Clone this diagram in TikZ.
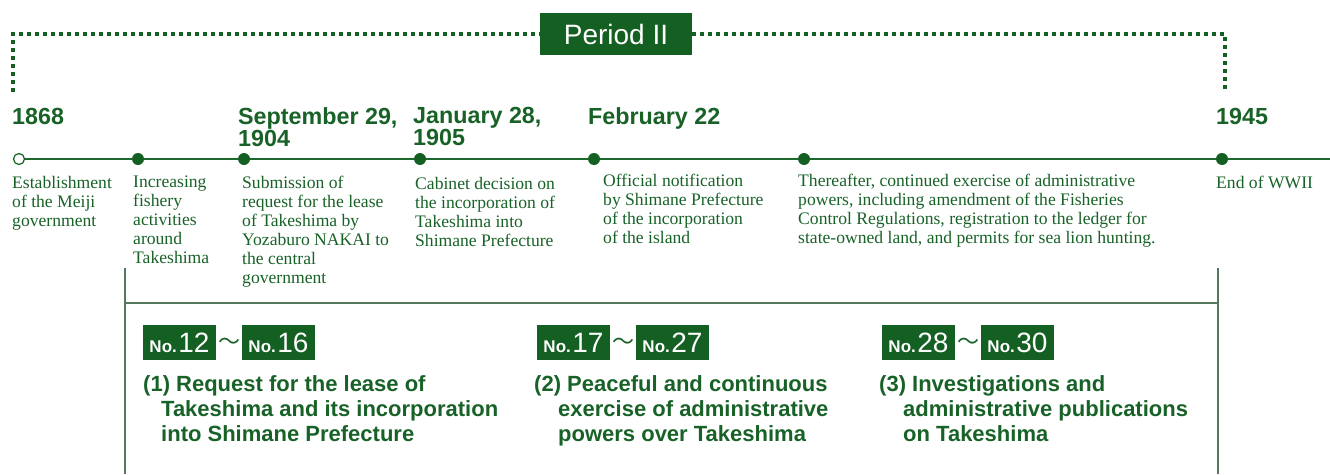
\documentclass[tikz,border=0pt]{standalone}
\usepackage{fontspec}
\setmainfont{Liberation Serif}
\setsansfont{Liberation Sans}
\newfontfamily\cjkfont{Noto Sans CJK JP}
\definecolor{boxgreen}{RGB}{20,95,34}
\definecolor{txtgreen}{RGB}{24,98,40}
\definecolor{linegreen}{RGB}{30,105,45}
\definecolor{brgreen}{RGB}{85,120,92}
\begin{document}
\begin{tikzpicture}[x=1pt,y=-1pt,
  dotline/.style={draw=boxgreen,line width=4pt,dash pattern=on 4pt off 4pt},
  evdot/.style={circle,fill=boxgreen,inner sep=0pt,minimum size=12pt},
  opendot/.style={circle,draw=boxgreen,fill=white,line width=1.2pt,inner sep=0pt,minimum size=11pt},
  datelbl/.style={anchor=north west,inner sep=0pt,text=txtgreen,align=left,font=\sffamily\bfseries\fontsize{23.3}{22}\selectfont},
  desc/.style={anchor=north west,inner sep=0pt,text=txtgreen,align=left,font=\rmfamily\fontsize{17.6}{19}\selectfont},
  badge/.style={fill=boxgreen,text=white,inner sep=0pt,minimum width=73pt,minimum height=35pt,font=\sffamily},
  tild/.style={inner sep=0pt,text=txtgreen,font=\cjkfont\fontsize{22}{22}\selectfont},
  ttl/.style={anchor=north west,inner sep=0pt,text=txtgreen,align=left,font=\sffamily\bfseries\fontsize{22}{25}\selectfont},
  brline/.style={draw=brgreen,line width=1.3pt}
]
\useasboundingbox (0,0) rectangle (1330,474);

% Period bracket
\node[fill=boxgreen,text=white,inner sep=0pt,minimum width=152pt,minimum height=42pt,font=\sffamily\fontsize{28}{28}\selectfont] (period) at (616,34) {Period II};
\coordinate (bl) at (13,92);
\coordinate (blt) at (13,34);
\coordinate (br) at (1225,92);
\coordinate (brt) at (1225,34);
\draw[dotline] (bl) -- (blt) -- (blt -| period.west);
\draw[dotline] (period.east |- brt) -- (brt) -- (br);

% timeline
\coordinate (tend) at (1330,159);
\node[opendot] (e0) at (19,159) {};
\draw[linegreen,line width=1.8pt] (e0.east) -- (tend);
\node[evdot] (e1) at (138,159) {};
\node[evdot] (e2) at (244,159) {};
\node[evdot] (e3) at (420,159) {};
\node[evdot] (e4) at (594,159) {};
\node[evdot] (e5) at (804,159) {};
\node[evdot] (e6) at (1222,159) {};

% dates
\node[datelbl] (d0) at (12,108) {1868};
\node[datelbl] (d2) at (238,107) {September 29,\\1904};
\node[datelbl] (d3) at (413,107) {January 28,\\1905};
\node[datelbl] (d4) at (588,107) {February 22};
\node[datelbl] (d6) at (1216,108) {1945};

% descriptions
\node[desc] (t0) at (12,176) {Establishment\\of the Meiji\\government};
\node[desc] (t1) at (133,176) {Increasing\\fishery\\activities\\around\\Takeshima};
\node[desc] (t2) at (242,176) {Submission of\\request for the lease\\of Takeshima by\\Yozaburo NAKAI to\\the central\\government};
\node[desc] (t3) at (415,177) {Cabinet decision on\\the incorporation of\\Takeshima into\\Shimane Prefecture};
\node[desc] (t4) at (603,174) {Official notification\\by Shimane Prefecture\\of the incorporation\\of the island};
\node[desc] (t5) at (798,174) {Thereafter, continued exercise of administrative\\powers, including amendment of the Fisheries\\Control Regulations, registration to the ledger for\\state-owned land, and permits for sea lion hunting.};
\node[desc] (t6) at (1216,176) {End of WWII};

% lower bracket
\coordinate (lb1) at (125,268);
\coordinate (lb2) at (125,474);
\coordinate (rb1) at (1218,268);
\coordinate (rb2) at (1218,474);
\coordinate (hl) at (125,303);
\coordinate (hr) at (1218,303);
\draw[brline] (lb1) -- (lb2);
\draw[brline] (rb1) -- (rb2);
\draw[brline] (hl) -- (hr);

% badges
\newcommand{\badgetext}[1]{{\bfseries\fontsize{17}{17}\selectfont No.}\hspace{1.5pt}{\fontsize{28}{28}\selectfont #1}}
\node[badge] (b12) at (179.5,342.5) {\badgetext{12}};
\node[tild] (w1) at (229,344) {～};
\node[badge] (b16) at (278.5,342.5) {\badgetext{16}};
\node[badge] (b17) at (573.5,342.5) {\badgetext{17}};
\node[tild] (w2) at (623,344) {～};
\node[badge] (b27) at (672.5,342.5) {\badgetext{27}};
\node[badge] (b28) at (918.5,342.5) {\badgetext{28}};
\node[tild] (w3) at (968,344) {～};
\node[badge] (b30) at (1017.5,342.5) {\badgetext{30}};

% titles
\node[ttl] (s1) at (143,375) {(1) Request for the lease of\\\hspace*{18pt}Takeshima and its incorporation\\\hspace*{18pt}into Shimane Prefecture};
\node[ttl] (s2) at (534,375) {(2) Peaceful and continuous\\\hspace*{24pt}exercise of administrative\\\hspace*{24pt}powers over Takeshima};
\node[ttl] (s3) at (879,375) {(3) Investigations and\\\hspace*{24pt}administrative publications\\\hspace*{24pt}on Takeshima};
\end{tikzpicture}
\end{document}
